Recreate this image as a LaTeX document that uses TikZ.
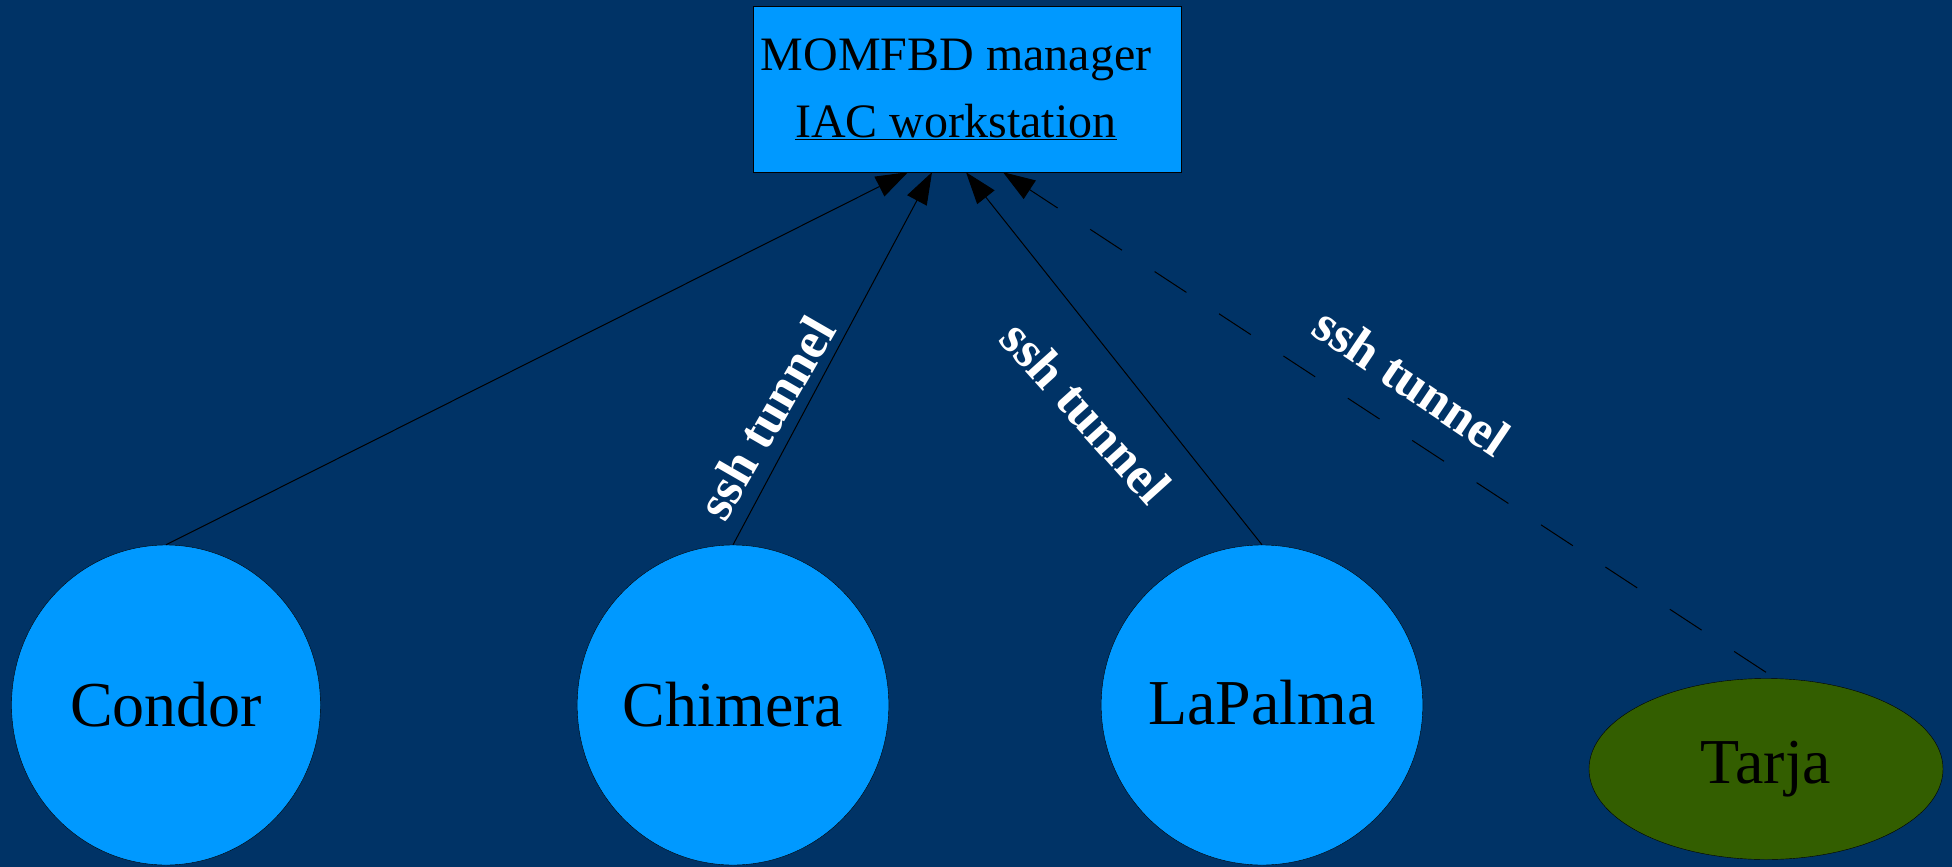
\documentclass[tikz,border=0pt]{standalone}
\usepackage{fontspec}
\setmainfont{Liberation Serif}
\definecolor{momback}{RGB}{0,51,102}
\definecolor{momblue}{RGB}{0,153,255}
\definecolor{momgreen}{RGB}{51,94,0}
\usetikzlibrary{arrows.meta,shapes.geometric}

\begin{document}
\begin{tikzpicture}[x=1pt,y=-1pt,
    host/.style={
        ellipse, draw, fill=momblue, minimum width=309pt, minimum height=320pt,
        inner sep=0pt, font=\fontsize{64}{77}\selectfont
    },
    tunnel/.style={text=white, font=\bfseries\fontsize{52}{62}\selectfont, inner sep=0pt},
    link/.style={-{Triangle[length=32pt,width=22pt]}, line width=1pt}
]
    \useasboundingbox (0,0) rectangle (1952,867);
    \fill[momback] (0,0) rectangle (1952,867);

    \node[rectangle,draw,fill=momblue,minimum width=428pt,minimum height=166pt,
          align=center,font=\fontsize{48}{67}\selectfont] (mgr) at (967,89)
          {MOMFBD manager\hspace*{22pt}\\ \underline{IAC workstation}\hspace*{22pt}};

    \node[host] (condor) at (166,705) {Condor};
    \node[host] (chimera) at (733,705) {Chimera};
    \node[host] (lapalma) at (1262,705) {\raisebox{5pt}{LaPalma}};
    \node[host,fill=momgreen,minimum width=354pt,minimum height=181pt] (tarja) at (1766,769) {Tarja};

    % Ends on the manager box
    \coordinate (inA) at ([xshift=-59pt]mgr.south);
    \coordinate (inB) at ([xshift=-35pt]mgr.south);
    \coordinate (inC) at ([xshift=-1pt]mgr.south);
    \coordinate (inD) at ([xshift=36pt]mgr.south);

    % Arrows
    \foreach \a/\b in {condor/inA,chimera/inB,lapalma/inC} {
        \draw[link] (\a.north) -- (\b);
    }
    \draw[link,dash pattern=on 38pt off 39pt] ([yshift=6pt]tarja.north) -- (inD);

    % Labels
    \node[tunnel,rotate=60] (sshA) at (766,418) {ssh tunnel};
    \node[tunnel,rotate=-48] (sshB) at (1086,412) {ssh tunnel};
    \node[tunnel,rotate=-34] (sshC) at (1412,381) {ssh tunnel};
\end{tikzpicture}
\end{document}
